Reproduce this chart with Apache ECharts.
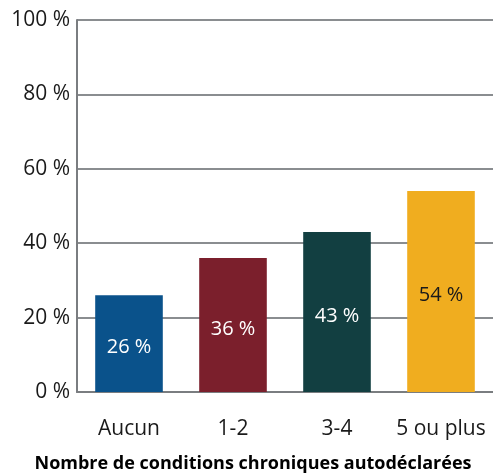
<!DOCTYPE html>
<html>
<head>
<meta charset="utf-8">
<script src="https://cdn.jsdelivr.net/npm/echarts@6/dist/echarts.min.js"></script>
<style>
  html, body { margin: 0; padding: 0; background: #fff; }
  #chart { width: 493px; height: 473px; }
</style>
</head>
<body>
<div id="chart"></div>
<script>
// Share of respondents by number of self-reported chronic conditions
const categories = ['Aucun', '1-2', '3-4', '5 ou plus'];
const values = [26, 36, 43, 54];
const barColors = ['#0a528b', '#7b1f2c', '#123f41', '#f0ad1f'];
const labelColors = ['#ffffff', '#ffffff', '#ffffff', '#1a1a1a'];
const yTicks = [0, 20, 40, 60, 80, 100];
const axisTitle = 'Nombre de conditions chroniques autodéclarées';

const FONT = '"Open Sans", "Noto Sans", sans-serif';

const chart = echarts.init(document.getElementById('chart'));
chart.setOption({
  animation: false,
  grid: { left: 77, right: 0, top: 20, bottom: 81, containLabel: false, outerBoundsMode: 'none' },
  xAxis: {
    type: 'category',
    data: categories,
    axisLine: { show: true, lineStyle: { color: '#7a7d80', width: 2 } },
    axisTick: { show: false },
    axisLabel: { interval: 0, color: '#1a1a1a', fontSize: 21, fontFamily: FONT, margin: 27 },
    name: axisTitle,
    nameLocation: 'middle',
    nameGap: 63,
    nameTextStyle: { color: '#000', fontSize: 18, fontWeight: 'bold', fontFamily: FONT, padding: [0, 0, 0, -64] }
  },
  yAxis: {
    type: 'value',
    min: yTicks[0],
    max: yTicks[yTicks.length - 1],
    interval: yTicks[1] - yTicks[0],
    axisLine: { show: true, lineStyle: { color: '#7a7d80', width: 2 } },
    axisTick: { show: false },
    splitLine: { show: true, lineStyle: { color: '#8a8d90', width: 2 } },
    axisLabel: { formatter: '{value} %', color: '#1a1a1a', fontSize: 21, fontFamily: FONT, margin: 7 }
  },
  series: [{
    type: 'bar',
    barWidth: '65%',
    data: values.map((v, i) => ({
      value: v,
      itemStyle: { color: barColors[i] },
      label: { color: labelColors[i] }
    })),
    label: {
      show: true,
      position: 'inside',
      offset: [0, 4],
      formatter: '{c} %',
      fontSize: 20,
      fontFamily: FONT
    }
  }]
});
</script>
</body>
</html>
